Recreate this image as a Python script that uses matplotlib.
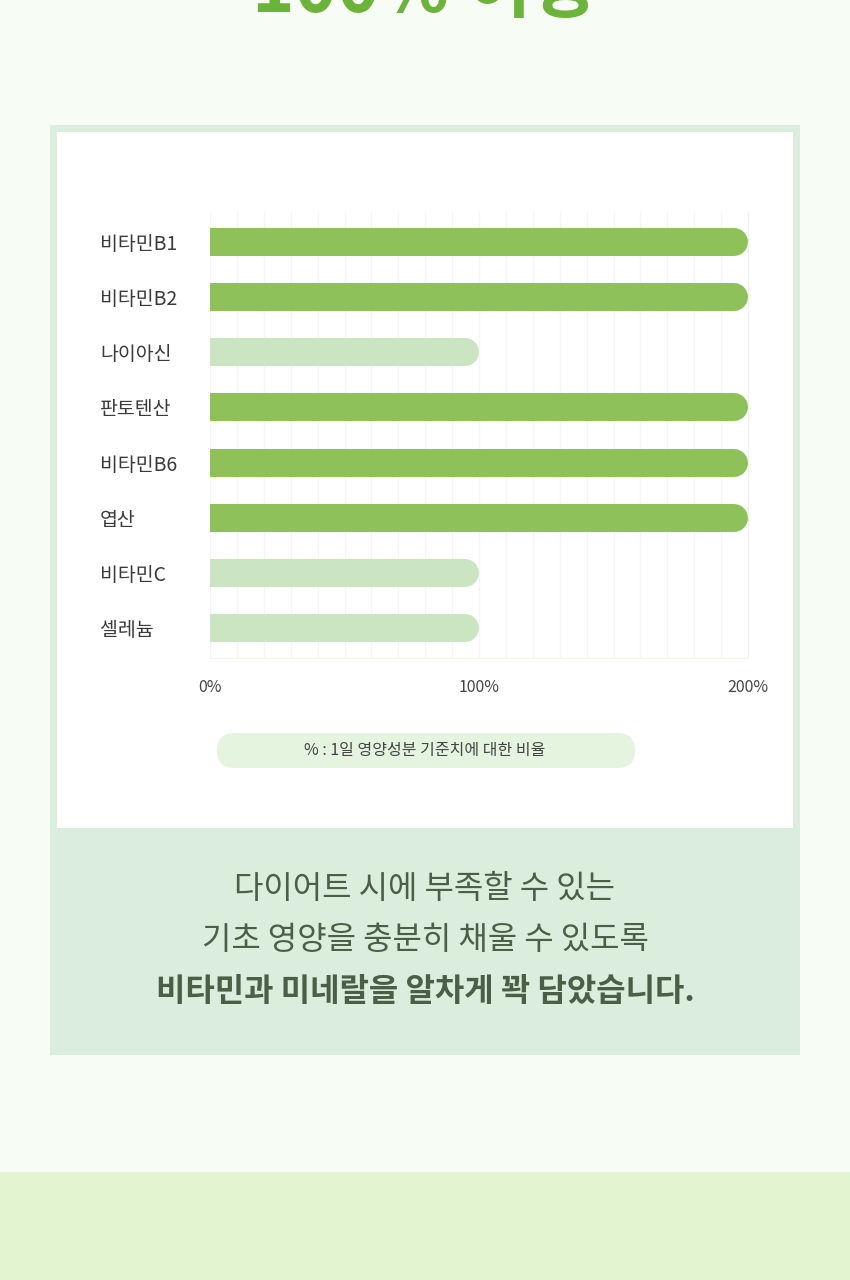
import numpy as np
import matplotlib.pyplot as plt
from matplotlib.patches import Rectangle, FancyBboxPatch

plt.rcParams['font.family'] = ['Noto Sans CJK KR', 'DejaVu Sans']

nutrients = ["비타민B1", "비타민B2", "나이아신", "판토텐산", "비타민B6", "엽산", "비타민C", "셀레늄"]
percents = [200, 200, 100, 200, 200, 200, 100, 100]
xticks = [0, 100, 200]
xtick_labels = ["0%", "100%", "200%"]
title = "100% 이상"
legend_text = "% : 1일 영양성분 기준치에 대한 비율"
lines = ["다이어트 시에 부족할 수 있는", "기초 영양을 충분히 채울 수 있도록"]
bold_line = "비타민과 미네랄을 알차게 꽉 담았습니다."

W, H = 850, 1280
fig = plt.figure(figsize=(W / 100, H / 100), dpi=100)
fig.patch.set_facecolor("#f7fdf4")

# page decoration in pixel coordinates
bg = fig.add_axes([0, 0, 1, 1])
bg.set_xlim(0, W)
bg.set_ylim(H, 0)
bg.axis("off")
bg.add_patch(Rectangle((0, 1172), W, H - 1172, color="#e2f5d0", lw=0))
bg.add_patch(Rectangle((50, 125), 750, 930, color="#dbeedd", lw=0))
bg.add_patch(Rectangle((57, 132), 736, 696, color="white", lw=0))
bg.add_patch(FancyBboxPatch((217, 733), 418, 35, boxstyle="round,pad=0,rounding_size=17.5",
                            color="#e5f4df", lw=0))
bg.text(425, 751, legend_text, ha="center", va="center", fontsize=11.5, color="#444444")
# title is cut off by the top edge, as in the original page
bg.text(425, 12, title, ha="center", va="baseline", fontsize=52, fontweight="bold", color="#6cb33a")
bg.text(425, 889, lines[0], ha="center", va="center", fontsize=23, color="#4b5e46")
bg.text(425, 940, lines[1], ha="center", va="center", fontsize=23, color="#4b5e46")
bg.text(425, 992, bold_line, ha="center", va="center", fontsize=23, fontweight="bold", color="#4b5e46")

# chart
ax = fig.add_axes([210 / W, 1 - 658 / H, (748 - 210) / W, (658 - 212) / H])
ax.set_facecolor("none")
ax.set_xlim(0, 200)
ax.set_ylim(len(nutrients) - 0.455, -0.545)
ax.set_xticks(np.arange(0, 201, 10), minor=True)
ax.grid(True, axis="x", which="both", color="#f3f6f2", lw=1)
ax.set_axisbelow(True)
for s in ["top", "left"]:
    ax.spines[s].set_visible(False)
for s in ["bottom", "right"]:
    ax.spines[s].set_color("#eef3ec")

bar_px = 28
fig.canvas.draw()
px_per_unit = ax.transData.transform((1, 0))[0] - ax.transData.transform((0, 0))[0]
r = (bar_px / 2) / px_per_unit
for i, (name, v) in enumerate(zip(nutrients, percents)):
    col = "#8fc15b" if v >= 200 else "#cbe4c2"
    ax.plot([-r, v - r], [i, i], color=col, lw=bar_px * 0.72, solid_capstyle="round", zorder=3)

ax.set_yticks(range(len(nutrients)))
ax.set_yticklabels(nutrients, fontsize=14, color="#3a3a3a", ha="left")
ax.tick_params(axis="y", length=0, pad=110 * 0.72)
ax.set_xticks(xticks)
ax.set_xticklabels(xtick_labels, fontsize=11.5, color="#444444")
ax.tick_params(axis="x", which="both", length=0, pad=15)

fig.savefig("out.png", dpi=100, facecolor=fig.get_facecolor())
